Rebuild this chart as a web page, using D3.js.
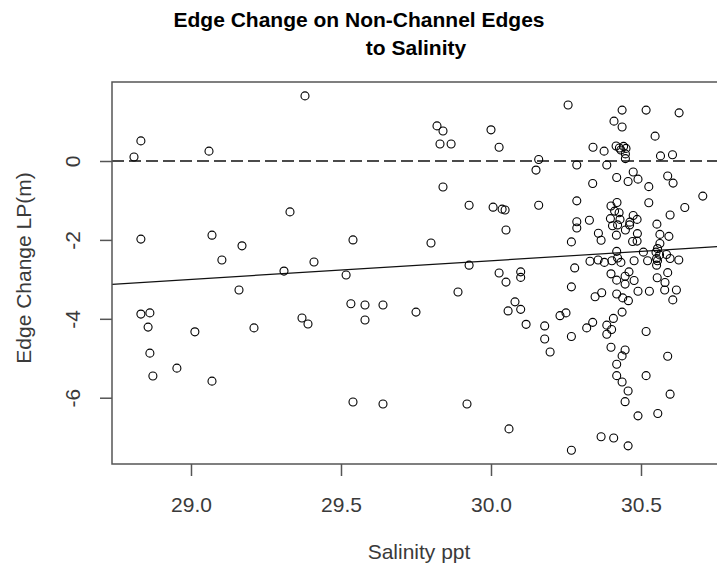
<!DOCTYPE html>
<html>
<head>
<meta charset="utf-8">
<script src="https://cdn.jsdelivr.net/npm/d3@7"></script>
<style>
  body { margin: 0; background: #fff; }
  svg { display: block; font-family: "Liberation Sans", Arial, sans-serif; }
</style>
</head>
<body>
<script>
// chart values
const salinity = [
  28.81, 28.833, 28.833, 28.833, 28.863, 28.857, 28.863, 28.873, 28.953, 29.013,
  29.07, 29.06, 29.07, 29.103, 29.17, 29.16, 29.21, 29.33, 29.31, 29.41,
  29.38, 29.37, 29.39, 29.54, 29.517, 29.533, 29.54, 29.58, 29.64, 29.58,
  29.75, 29.64, 29.82, 29.84, 29.83, 29.867, 30.0, 30.027, 29.84, 29.927,
  30.007, 30.037, 30.047, 30.05, 29.80, 29.927, 30.027, 30.05, 29.89, 30.057,
  29.92, 30.06, 30.257, 30.437, 30.517, 30.627, 30.41, 30.437, 30.547, 30.34,
  30.377, 30.417, 30.428, 30.442, 30.45, 30.433, 30.448, 30.448, 30.565, 30.605,
  30.159, 30.15, 30.286, 30.386, 30.474, 30.49, 30.419, 30.457, 30.339, 30.526,
  30.589, 30.607, 30.706, 30.159, 30.286, 30.42, 30.40, 30.412, 30.427, 30.398,
  30.43, 30.405, 30.422, 30.526, 30.646, 30.597, 30.474, 30.487, 30.463, 30.462,
  30.553, 30.328, 30.286, 30.286, 30.358, 30.367, 30.418, 30.448, 30.488, 30.487,
  30.472, 30.563, 30.593, 30.268, 30.563, 30.555, 30.55, 30.562, 30.552, 30.585,
  30.597, 30.419, 30.422, 30.433, 30.508, 30.33, 30.357, 30.378, 30.403, 30.477,
  30.522, 30.555, 30.552, 30.626, 30.279, 30.099, 30.099, 30.40, 30.419, 30.447,
  30.447, 30.46, 30.477, 30.554, 30.589, 30.58, 30.268, 30.08, 30.099, 30.117,
  30.179, 30.179, 30.197, 30.23, 30.25, 30.268, 30.347, 30.369, 30.419, 30.439,
  30.458, 30.49, 30.528, 30.579, 30.618, 30.606, 30.437, 30.408, 30.339, 30.319,
  30.386, 30.402, 30.386, 30.517, 30.40, 30.447, 30.437, 30.419, 30.589, 30.419,
  30.437, 30.517, 30.457, 30.447, 30.597, 30.49, 30.556, 30.367, 30.409, 30.457,
  30.268
];
const edgeChange = [
  0.10, 0.51, -1.98, -3.88, -3.85, -4.21, -4.87, -5.45, -5.25, -4.33,
  -5.58, 0.25, -1.88, -2.51, -2.15, -3.27, -4.23, -1.29, -2.79, -2.56,
  1.65, -3.98, -4.13, -2.00, -2.89, -3.62, -6.11, -3.65, -3.65, -4.03,
  -3.83, -6.16, 0.89, 0.76, 0.43, 0.43, 0.79, 0.35, -0.66, -1.12,
  -1.17, -1.22, -1.24, -1.75, -2.08, -2.64, -2.84, -3.07, -3.32, -3.80,
  -6.16, -6.79, 1.42, 1.29, 1.29, 1.22, 1.01, 0.86, 0.63, 0.35,
  0.25, 0.38, 0.33, 0.37, 0.32, 0.28, 0.18, 0.06, 0.13, 0.16,
  0.04, -0.23, -0.10, -0.10, -0.28, -0.46, -0.42, -0.52, -0.57, -0.65,
  -0.38, -0.56, -0.89, -1.12, -1.01, -1.05, -1.14, -1.27, -1.31, -1.46,
  -1.48, -1.64, -1.62, -1.06, -1.18, -1.37, -1.38, -1.48, -1.55, -1.62,
  -1.60, -1.50, -1.54, -1.70, -1.83, -2.01, -1.88, -1.75, -1.84, -2.03,
  -2.04, -1.86, -1.91, -2.05, -2.09, -2.22, -2.31, -2.38, -2.47, -2.37,
  -2.47, -2.29, -2.46, -2.57, -2.31, -2.54, -2.51, -2.57, -2.53, -2.53,
  -2.53, -2.53, -2.64, -2.51, -2.71, -2.81, -2.95, -2.86, -3.02, -2.92,
  -3.12, -2.81, -3.03, -2.96, -2.83, -3.08, -3.19, -3.57, -3.76, -4.14,
  -4.18, -4.51, -4.84, -3.92, -3.85, -4.45, -3.44, -3.34, -3.37, -3.47,
  -3.54, -3.30, -3.30, -3.27, -3.27, -3.52, -3.83, -3.99, -4.09, -4.23,
  -4.16, -4.27, -4.39, -4.32, -4.72, -4.79, -4.94, -5.15, -4.95, -5.44,
  -5.60, -5.44, -5.83, -6.10, -5.91, -6.46, -6.40, -6.99, -7.02, -7.22,
  -7.33
];
const xTicks = [29.0, 29.5, 30.0, 30.5];
const yTicks = [-6, -4, -2, 0];
const fitIntercept = -16.703;   // abline of the fitted model
const fitSlope = 0.4725;
const refLevel = 0;             // dashed reference line

const width = 717, height = 569;
const plot = { left: 112, top: 82, right: 722, bottom: 464 };
const font = "'Liberation Sans', Arial, sans-serif";

const svg = d3.select("body").append("svg")
    .attr("width", width)
    .attr("height", height);

svg.append("rect").attr("width", width).attr("height", height).attr("fill", "#fff");

const x = d3.scaleLinear().domain([28.7367, 30.77]).range([plot.left, plot.right]);
const y = d3.scaleLinear().domain([-7.68, 2.0025]).range([plot.bottom, plot.top]);

svg.append("defs").append("clipPath").attr("id", "clip")
  .append("rect")
    .attr("x", plot.left).attr("y", plot.top)
    .attr("width", plot.right - plot.left).attr("height", plot.bottom - plot.top);

const inner = svg.append("g").attr("clip-path", "url(#clip)");

// dashed zero line
inner.append("line")
    .attr("x1", plot.left).attr("x2", plot.right)
    .attr("y1", y(refLevel)).attr("y2", y(refLevel))
    .attr("stroke", "#111").attr("stroke-width", 1.3)
    .attr("stroke-dasharray", "12,5");

// fitted line across the whole plot
const [x0, x1] = x.domain();
inner.append("line")
    .attr("x1", x(x0)).attr("y1", y(fitIntercept + fitSlope * x0))
    .attr("x2", x(x1)).attr("y2", y(fitIntercept + fitSlope * x1))
    .attr("stroke", "#111").attr("stroke-width", 1.2);

// points
inner.selectAll("circle")
    .data(salinity.map((s, i) => ({ s, e: edgeChange[i] })))
    .enter().append("circle")
    .attr("cx", d => x(d.s))
    .attr("cy", d => y(d.e))
    .attr("r", 4)
    .attr("fill", "none")
    .attr("stroke", "#000")
    .attr("stroke-width", 1.1);

// box
svg.append("rect")
    .attr("x", plot.left).attr("y", plot.top)
    .attr("width", plot.right - plot.left).attr("height", plot.bottom - plot.top)
    .attr("fill", "none").attr("stroke", "#555").attr("stroke-width", 1.5);

// x axis
const xAxis = svg.append("g")
    .attr("transform", `translate(0,${plot.bottom})`)
    .call(d3.axisBottom(x).tickValues(xTicks).tickSize(12).tickFormat(d => d.toFixed(1)));
xAxis.select(".domain").remove();
xAxis.selectAll("line").attr("stroke", "#555").attr("stroke-width", 1.5);
xAxis.selectAll("text")
    .attr("y", 48).attr("dy", null)
    .attr("fill", "#3a3a3a")
    .style("font-size", "21px")
    .style("font-family", font);

// y axis (labels parallel to the axis, as in R), plain hyphen minus
const yAxis = svg.append("g")
    .attr("transform", `translate(${plot.left},0)`)
    .call(d3.axisLeft(y).tickValues(yTicks).tickSize(12).tickFormat(d => String(d)));
yAxis.select(".domain").remove();
yAxis.selectAll("line").attr("stroke", "#555").attr("stroke-width", 1.5);
yAxis.selectAll("text")
    .attr("x", 0).attr("y", -32).attr("dy", null)
    .attr("text-anchor", "middle")
    .attr("transform", "rotate(-90)")
    .attr("fill", "#3a3a3a")
    .style("font-size", "21px")
    .style("font-family", font);

// titles
svg.append("text")
    .attr("x", 359).attr("y", 27)
    .attr("text-anchor", "middle")
    .attr("font-weight", "bold").attr("font-size", 21)
    .attr("fill", "#000")
    .text("Edge Change on Non-Channel Edges");
svg.append("text")
    .attr("x", 416).attr("y", 55)
    .attr("text-anchor", "middle")
    .attr("font-weight", "bold").attr("font-size", 21)
    .attr("fill", "#000")
    .text("to Salinity");

svg.append("text")
    .attr("x", 419).attr("y", 559)
    .attr("text-anchor", "middle")
    .attr("font-size", 21).attr("fill", "#3a3a3a")
    .text("Salinity ppt");

svg.append("text")
    .attr("transform", "translate(31,268) rotate(-90)")
    .attr("text-anchor", "middle")
    .attr("font-size", 21).attr("fill", "#3a3a3a")
    .text("Edge Change LP(m)");
</script>
</body>
</html>
